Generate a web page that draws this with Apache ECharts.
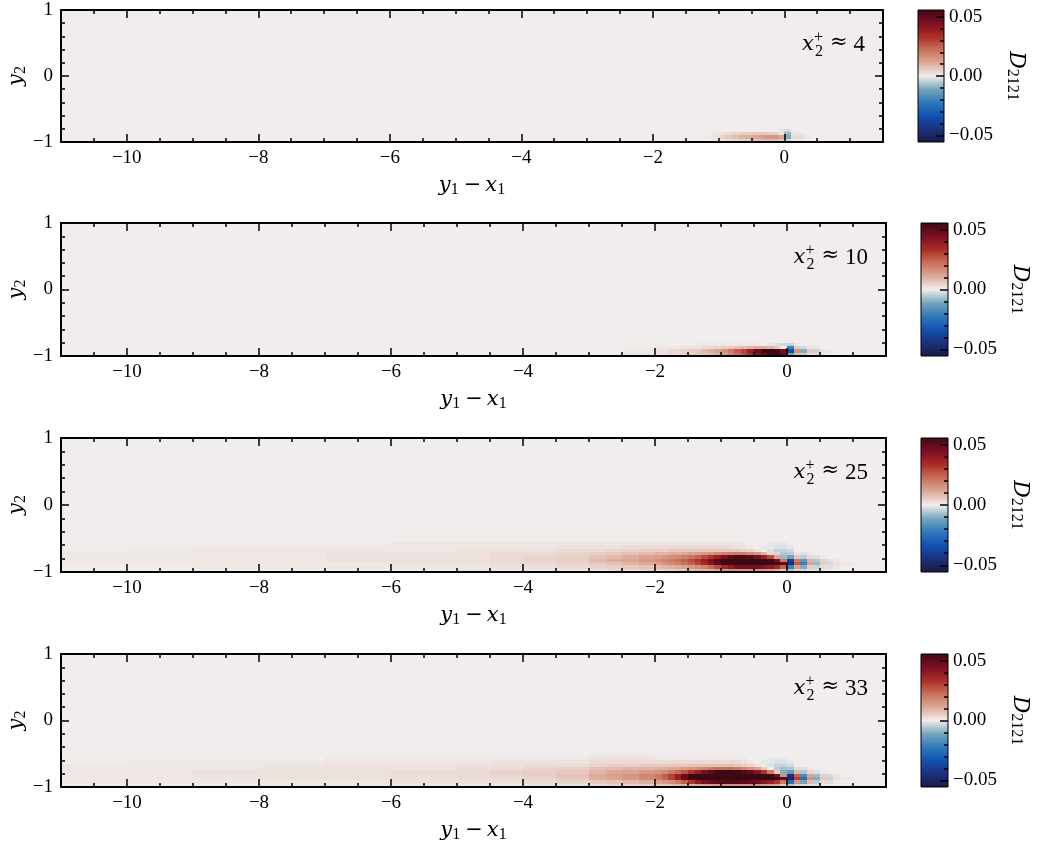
<!DOCTYPE html>
<html>
<head>
<meta charset="utf-8">
<script src="https://cdn.jsdelivr.net/npm/echarts@6.0.0/dist/echarts.min.js"></script>
<style>html,body{margin:0;padding:0;background:#fff}#c{width:1041px;height:846px}</style>
</head>
<body>
<div id="c"></div>
<script>
// ---------------- data ----------------
const X_RANGE = [-11, 1.5];
const Y_RANGE = [-1, 1];
const X_MAJOR_TICKS = [-10, -8, -6, -4, -2, 0];
const X_MINOR_STEP = 0.5;
const Y_MAJOR_STEP = 1;
const Y_MINOR_STEP = 0.2;
const CB_RANGE = [-0.0556, 0.0556];
const CB_MAJOR_TICKS = [-0.05, 0, 0.05];
const CB_MINOR_TICKS = [-0.05, -0.04, -0.03, -0.02, -0.01, 0, 0.01, 0.02, 0.03, 0.04, 0.05];
const PANEL_LABELS = ['4', '10', '25', '33'];

// cell edges of the sampled field (data units)
const X_EDGES = [-11,-10,-9,-8,-7,-6,-5,-4.5,-4,-3.5,-3,
  -2.75,-2.5,-2.25,-2,
  -1.9,-1.8,-1.7,-1.6,-1.5,-1.4,-1.3,-1.2,-1.1,-1,
  -0.9,-0.8,-0.7,-0.6,-0.5,-0.4,-0.3,-0.2,-0.1,0,
  0.1,0.2,0.3,0.4,0.5,0.6,0.7,0.8,1,1.2];
const Y_EDGES = [-1,-0.95,-0.9,-0.85,-0.8,-0.75,-0.7,-0.65,-0.6,-0.55,-0.5];

// D2121 values in units of 1e-3; rows from y2=-1 upward, columns follow X_EDGES; elsewhere 0
const D_X4 = [
  [0,0,0,0,0,0,0,0,0,0, 0,0,0,0, 0,0,0,0,0,0,0,0,0,1, 2,3,3,4,5,6,7,8,8,6, -3,1,-1,0,0,0,0,0,0,0],
  [0,0,0,0,0,0,0,0,0,0, 0,0,0,0, 0,0,0,0,0,0,0,0,1,2, 4,6,7,9,10,11,13,14,15,12, -10,3,-2,1,0,0,0,0,0,0],
  [0,0,0,0,0,0,0,0,0,0, 0,0,0,0, 0,0,0,0,0,0,0,0,0,1, 2,3,4,5,5,6,6,6,5,2, -8,2,-1,0,0,0,0,0,0,0],
  [0,0,0,0,0,0,0,0,0,0, 0,0,0,0, 0,0,0,0,0,0,0,0,0,0, 0,0,0,0,0,0,0,0,0,-1, -3,0,0,0,0,0,0,0,0,0]
];
const D_X10 = [
  [0,0,0,0,0,0,0,0,0,0, 0,0,1,1, 2,2,3,3,4,5,6,7,8,10, 13,18,22,27,33,42,50,55,55,48, -12,8,-5,3,-2,1,0,0,0,0],
  [0,0,0,0,0,0,0,0,0,0, 0,0,1,1, 2,2,3,3,4,5,6,8,10,12, 15,20,25,30,38,48,55,58,58,45, -35,15,-10,6,-4,2,-1,0,0,0],
  [0,0,0,0,0,0,0,0,0,0, 0,0,0,0, 1,1,1,1,2,2,2,3,3,4, 5,6,7,8,9,10,10,9,6,0, -20,5,-3,2,-1,0,0,0,0,0],
  [0,0,0,0,0,0,0,0,0,0, 0,0,0,0, 0,0,0,0,0,0,1,1,1,1, 1,1,1,1,1,1,0,-1,-2,-3, -4,1,0,0,0,0,0,0,0,0]
];
const D_X25 = [
  [0,0,0,0,0,0,1,1,1,1, 2,3,3,4, 4,5,5,6,6,7,8,9,10,12, 14,15,15,15,15,14,13,12,10,6, -6,4,-3,2,-2,1,0,0,0,0],
  [0,0,1,1,1,1,1,2,2,3, 4,5,6,7, 8,9,10,11,12,14,16,19,23,28, 35,40,45,45,45,45,42,40,35,25, -20,12,-10,6,-4,3,-2,1,0,0],
  [1,1,1,1,1,2,2,3,3,4, 6,7,9,11, 13,15,17,19,22,25,29,35,42,50, 58,60,60,60,60,60,60,58,55,50, -45,25,-20,12,-8,5,-3,2,1,0],
  [1,1,1,1,2,2,2,3,4,5, 8,10,12,14, 16,18,20,22,25,28,32,38,45,52, 58,60,60,60,60,60,58,55,45,20, -40,20,-15,10,-6,4,-2,1,0,0],
  [1,1,1,1,2,2,2,3,4,5, 7,8,10,12, 13,14,16,17,19,21,24,28,32,38, 45,50,52,52,50,45,38,28,12,-8, -12,6,-5,3,-2,1,0,0,0,0],
  [1,1,1,1,2,2,2,3,3,4, 5,6,7,8, 9,9,10,10,11,12,13,14,15,17, 18,19,20,19,17,14,9,3,-3,-6, -5,2,-2,1,0,0,0,0,0,0],
  [0,1,1,1,1,1,2,2,2,3, 3,4,4,5, 5,5,6,6,6,6,6,6,6,6, 6,6,6,5,4,2,0,-2,-4,-4, -3,0,0,0,0,0,0,0,0,0],
  [0,0,1,1,1,1,1,1,1,2, 2,2,3,3, 3,3,3,3,3,3,3,3,3,3, 3,3,2,2,1,0,-1,-1,-2,-2, -1,0,0,0,0,0,0,0,0,0],
  [0,0,0,0,0,1,1,1,1,1, 1,1,1,1, 1,1,1,1,1,1,1,1,1,1, 1,1,1,1,0,0,0,-1,-1,-1, 0,0,0,0,0,0,0,0,0,0],
  [0,0,0,0,0,0,0,0,0,0, 0,0,0,0, 0,0,0,0,0,0,0,0,0,0, 0,0,0,0,0,0,0,0,0,0, 0,0,0,0,0,0,0,0,0,0]
];
const D_X33 = [
  [0,0,0,1,1,1,1,1,2,2, 3,4,4,5, 6,6,7,8,9,10,11,12,13,14, 15,16,16,16,16,15,14,13,11,6, -6,4,-3,2,-2,1,0,0,0,0],
  [1,1,1,1,1,2,2,2,3,4, 6,7,8,10, 12,14,16,20,25,32,40,45,48,50, 52,52,52,50,48,45,42,38,32,20, -25,15,-12,8,-5,3,-2,1,0,0],
  [1,1,1,2,2,2,3,3,4,6, 10,12,14,17, 20,24,30,38,48,58,60,60,60,60, 60,60,60,60,60,60,60,60,58,50, -50,30,-25,15,-10,6,-4,2,1,0],
  [1,1,2,2,2,3,3,4,5,7, 11,13,15,18, 21,25,30,38,48,58,60,60,60,60, 60,60,60,60,60,60,58,55,45,15, -45,25,-18,12,-8,5,-3,2,0,0],
  [1,1,2,2,2,3,3,4,5,6, 9,11,12,14, 15,17,20,23,27,32,38,45,50,55, 58,58,55,52,48,42,32,20,5,-10, -14,8,-6,4,-2,1,0,0,0,0],
  [1,1,1,2,2,2,3,3,4,5, 7,8,9,9, 10,10,11,12,13,14,16,18,20,22, 22,22,20,18,15,12,6,0,-5,-7, -6,3,-2,1,0,0,0,0,0,0],
  [1,1,1,1,2,2,2,2,3,3, 4,5,5,6, 6,6,6,6,6,7,7,7,7,7, 7,7,6,5,4,2,0,-2,-4,-4, -3,0,0,0,0,0,0,0,0,0],
  [0,1,1,1,1,1,1,2,2,2, 3,3,3,3, 3,3,3,3,3,3,3,3,3,3, 3,3,3,2,1,0,-1,-1,-2,-2, -1,0,0,0,0,0,0,0,0,0],
  [0,0,0,0,1,1,1,1,1,1, 2,2,2,2, 1,1,1,1,1,1,1,1,1,1, 1,1,1,1,0,0,0,-1,-1,-1, 0,0,0,0,0,0,0,0,0,0],
  [0,0,0,0,0,0,0,0,0,0, 1,1,1,1, 0,0,0,0,0,0,0,0,0,0, 0,0,0,0,0,0,0,0,0,0, 0,0,0,0,0,0,0,0,0,0]
];
const FIELDS = [D_X4, D_X10, D_X25, D_X33];
const VALUE_UNIT = 1e-3;

// diverging palette (cmocean "balance"-like), low -> high
const BALANCE = ['#181c43','#1c2f7c','#1252b0','#2f78bb','#76a6bb','#f1edec',
                 '#dca896','#c87058','#aa2c25','#7a0f25','#3c0912'];

// ---------------- layout (pixels) ----------------
const LAYOUT = [
  {left: 61, top: 10,  width: 822, height: 132, cbLeft: 918, cbWidth: 26},
  {left: 61, top: 223, width: 825, height: 133, cbLeft: 921, cbWidth: 27},
  {left: 61, top: 438, width: 825, height: 134, cbLeft: 921, cbWidth: 27},
  {left: 61, top: 654, width: 825, height: 133, cbLeft: 921, cbWidth: 27}
];
const FONT = '"Liberation Serif", "Times New Roman", serif';
const MFONT = '"DejaVu Serif", serif';
const BLACK = '#000';

// ---------------- helpers ----------------
function hexRgb(h) { return [parseInt(h.slice(1,3),16), parseInt(h.slice(3,5),16), parseInt(h.slice(5,7),16)]; }
const PAL_RGB = BALANCE.map(hexRgb);
function cmap(v) {
  let t = (v - CB_RANGE[0]) / (CB_RANGE[1] - CB_RANGE[0]);
  t = Math.max(0, Math.min(1, t));
  const n = PAL_RGB.length - 1;
  const f = t * n;
  const i = Math.min(Math.floor(f), n - 1);
  const u = f - i;
  const a = PAL_RGB[i], b = PAL_RGB[i + 1];
  return 'rgb(' + [0,1,2].map(k => Math.round(a[k] + (b[k] - a[k]) * u)).join(',') + ')';
}
function fmtNum(v, d) { return (v < 0 ? '\u2212' : '') + Math.abs(v).toFixed(d); }
const mctx = document.createElement('canvas').getContext('2d');
function tw(text, font) { mctx.font = font; return mctx.measureText(text).width; }

function buildCells(M) {
  const cells = [[X_RANGE[0], X_RANGE[1], Y_RANGE[0], Y_RANGE[1], 0]];
  M.forEach((row, r) => row.forEach((v, c) => {
    cells.push([X_EDGES[c], X_EDGES[c + 1], Y_EDGES[r], Y_EDGES[r + 1], v * VALUE_UNIT]);
  }));
  return cells;
}
function renderCell(params, api) {
  const p0 = api.coord([api.value(0), api.value(3)]);
  const p1 = api.coord([api.value(1), api.value(2)]);
  const L = Math.round(p0[0]), T = Math.round(p0[1]);
  const R = Math.round(p1[0]), B = Math.round(p1[1]);
  return {type: 'rect', shape: {x: L, y: T, width: R - L, height: B - T},
          style: {fill: cmap(api.value(4))}, silent: true};
}
function renderColorbar(params, api) {
  const p0 = api.coord([api.value(0), api.value(3)]);
  const p1 = api.coord([api.value(1), api.value(2)]);
  const stops = BALANCE.map((c, i) => ({offset: i / (BALANCE.length - 1), color: c}));
  return {type: 'rect', shape: {x: p0[0], y: p0[1], width: p1[0] - p0[0], height: p1[1] - p0[1]},
          style: {fill: new echarts.graphic.LinearGradient(0, 1, 0, 0, stops), stroke: BLACK, lineWidth: 1}, silent: true};
}

const RICH = {
  i: {fontFamily: MFONT, fontStyle: 'italic', fontSize: 21, lineHeight: 24, color: BLACK},
  op: {fontFamily: MFONT, fontSize: 21, lineHeight: 24, padding: [0, 4, 0, 5], color: BLACK},
  s: {fontFamily: FONT, fontSize: 16, lineHeight: 14, verticalAlign: 'bottom', color: BLACK},
  D: {fontFamily: MFONT, fontStyle: 'italic', fontSize: 22, lineHeight: 24, color: BLACK}
};

const grids = [], xAxes = [], yAxes = [], series = [], graphics = [];
const lineS = {color: BLACK, width: 2};
const tickS = {color: BLACK, width: 1.5};
const mkGrid = (l, t, w, h) => ({left: l, top: t, width: w, height: h, containLabel: false, outerBoundsMode: 'none'});

LAYOUT.forEach((P, g) => {
  const gA = grids.length;
  grids.push(mkGrid(P.left, P.top, P.width, P.height));
  grids.push(mkGrid(P.left, P.top, P.width, P.height));
  grids.push(mkGrid(P.cbLeft, P.top, P.cbWidth, P.height));
  grids.push(mkGrid(P.cbLeft, P.top, P.cbWidth, P.height));
  const xBase = xAxes.length, yBase = yAxes.length;
  // main grid A: minor ticks + frame
  ['bottom', 'top'].forEach(pos => xAxes.push({
    gridIndex: gA, type: 'value', position: pos, min: X_RANGE[0], max: X_RANGE[1], interval: X_MINOR_STEP, z: 5,
    axisLine: {show: true, onZero: false, lineStyle: lineS},
    axisTick: {show: true, inside: true, length: 4, lineStyle: tickS},
    axisLabel: {show: false}, splitLine: {show: false}
  }));
  // main grid B: major ticks + labels
  ['bottom', 'top'].forEach(pos => xAxes.push({
    gridIndex: gA + 1, type: 'value', position: pos, min: X_RANGE[0], max: X_RANGE[1], z: 5,
    axisLine: {show: false, onZero: false},
    axisTick: {show: true, inside: true, length: 8, customValues: X_MAJOR_TICKS, lineStyle: tickS},
    axisLabel: pos === 'bottom'
      ? {show: true, customValues: X_MAJOR_TICKS, formatter: v => fmtNum(v, 0), fontFamily: FONT, fontSize: 19, color: BLACK, margin: 7, align: 'center'}
      : {show: false},
    splitLine: {show: false},
    name: pos === 'bottom' ? '{i|y}{s|1}{op|\u2212}{i|x}{s|1}' : '',
    nameLocation: 'middle', nameGap: 32, nameTextStyle: {rich: RICH}, nameMoveOverlap: false
  }));
  // colorbar x axes (hidden)
  xAxes.push({gridIndex: gA + 2, type: 'value', min: 0, max: 1, show: false});
  xAxes.push({gridIndex: gA + 3, type: 'value', min: 0, max: 1, show: false});

  ['left', 'right'].forEach(pos => yAxes.push({
    gridIndex: gA, type: 'value', position: pos, min: Y_RANGE[0], max: Y_RANGE[1], interval: Y_MINOR_STEP, z: 5,
    axisLine: {show: true, onZero: false, lineStyle: lineS},
    axisTick: {show: true, inside: true, length: 4, lineStyle: tickS},
    axisLabel: {show: false}, splitLine: {show: false}
  }));
  ['left', 'right'].forEach(pos => yAxes.push({
    gridIndex: gA + 1, type: 'value', position: pos, min: Y_RANGE[0], max: Y_RANGE[1], interval: Y_MAJOR_STEP, z: 5,
    axisLine: {show: false, onZero: false},
    axisTick: {show: true, inside: true, length: 8, lineStyle: tickS},
    axisLabel: pos === 'left'
      ? {show: true, formatter: v => fmtNum(v, 0), fontFamily: FONT, fontSize: 19, color: BLACK, margin: 8, align: 'right'}
      : {show: false},
    splitLine: {show: false},
    name: pos === 'left' ? '{i|y}{s|2}' : '',
    nameLocation: 'middle', nameGap: 32, nameTextStyle: {rich: RICH}, nameMoveOverlap: false
  }));
  // colorbar y axes
  yAxes.push({
    gridIndex: gA + 2, type: 'value', position: 'right', min: CB_RANGE[0], max: CB_RANGE[1], z: 5,
    axisLine: {show: false, onZero: false},
    axisTick: {show: true, inside: true, length: 4, customValues: CB_MINOR_TICKS, lineStyle: tickS},
    axisLabel: {show: false}, splitLine: {show: false}
  });
  yAxes.push({
    gridIndex: gA + 3, type: 'value', position: 'right', min: CB_RANGE[0], max: CB_RANGE[1], z: 5,
    axisLine: {show: false, onZero: false},
    axisTick: {show: true, inside: true, length: 8, customValues: CB_MAJOR_TICKS, lineStyle: tickS},
    axisLabel: {show: true, customValues: CB_MAJOR_TICKS, formatter: v => fmtNum(v, 2), fontFamily: FONT, fontSize: 19, color: BLACK, margin: 5, align: 'left'},
    splitLine: {show: false},
    name: '{D|D}{s|2121}', nameLocation: 'middle', nameRotate: -90, nameGap: 60, nameTextStyle: {rich: RICH}, nameMoveOverlap: false
  });

  series.push({
    type: 'custom', xAxisIndex: xBase, yAxisIndex: yBase, renderItem: renderCell,
    data: buildCells(FIELDS[g]), clip: true, silent: true, z: 1, animation: false
  });
  series.push({
    type: 'custom', xAxisIndex: xBase + 4, yAxisIndex: yBase + 4, renderItem: renderColorbar,
    data: [[0, 1, CB_RANGE[0], CB_RANGE[1]]], clip: false, silent: true, z: 1, animation: false
  });

  // annotation x2+ ≈ N
  const right = P.left + P.width - 18;
  const numFont = '23px ' + FONT;
  const apFont = '21px ' + MFONT;
  const scrFont = '16px ' + FONT;
  const xFont = 'italic 21px ' + MFONT;
  const wNum = tw(PANEL_LABELS[g], numFont);
  const wAp = tw('\u2248', apFont);
  const apRight = right - wNum - 6;
  const scrLeft = apRight - wAp - 7 - tw('+', scrFont);
  const txt = (x, y, text, font, align) => ({type: 'text', x: x, y: y, z: 100, zlevel: 0, silent: true,
    style: {text: text, font: font, fill: BLACK, align: align, verticalAlign: 'middle'}});
  graphics.push(txt(right, P.top + 35, PANEL_LABELS[g], numFont, 'right'));
  graphics.push(txt(apRight, P.top + 33, '\u2248', apFont, 'right'));
  graphics.push(txt(scrLeft, P.top + 28, '+', scrFont, 'left'));
  graphics.push(txt(scrLeft + 1, P.top + 42, '2', scrFont, 'left'));
  graphics.push(txt(scrLeft, P.top + 35, 'x', xFont, 'right'));
});

const chart = echarts.init(document.getElementById('c'), null, {renderer: 'canvas'});
chart.setOption({
  animation: false,
  backgroundColor: '#fff',
  grid: grids, xAxis: xAxes, yAxis: yAxes, series: series,
  graphic: {elements: graphics}
});
</script>
</body>
</html>
